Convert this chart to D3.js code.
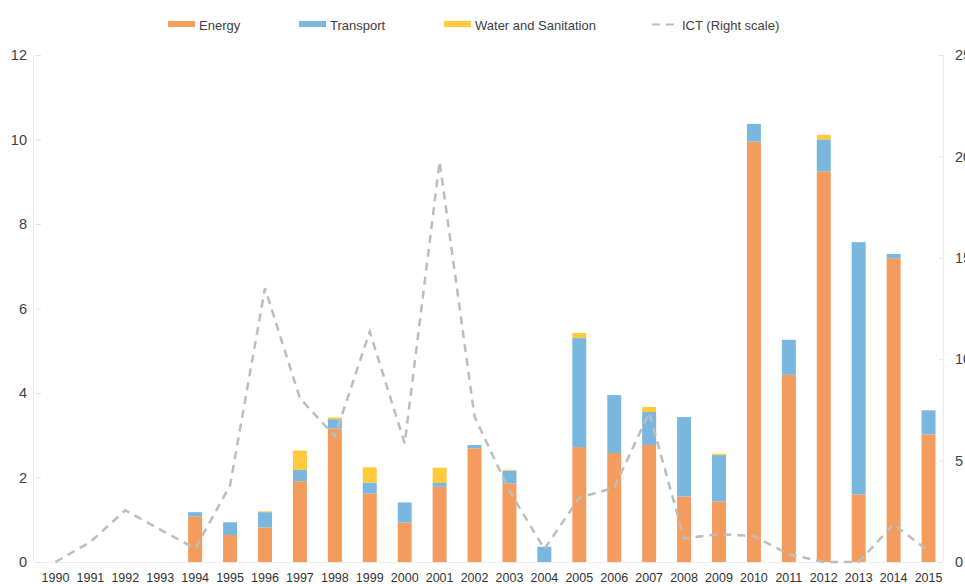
<!DOCTYPE html>
<html>
<head>
<meta charset="utf-8">
<script src="https://cdn.jsdelivr.net/npm/d3@7"></script>
<style>
  html, body { margin: 0; padding: 0; background: #fff; overflow: hidden; }
  svg { display: block; font-family: "Liberation Sans", Arial, sans-serif; }
</style>
</head>
<body>
<svg id="chart" width="965" height="584"></svg>
<script>
// Infrastructure commitments by sector, 1990-2015 (left scale) and ICT (right scale)
const years = d3.range(1990, 2016).map(String);
const energy    = [0, 0, 0, 0, 1.08, 0.64, 0.82, 1.91, 3.16, 1.62, 0.93, 1.78, 2.69, 1.86, 0, 2.72, 2.58, 2.77, 1.55, 1.43, 9.95, 4.43, 9.25, 1.60, 7.19, 3.02];
const transport = [0, 0, 0, 0, 0.10, 0.30, 0.36, 0.27, 0.22, 0.26, 0.48, 0.09, 0.08, 0.30, 0.36, 2.58, 1.37, 0.78, 1.88, 1.10, 0.42, 0.83, 0.75, 5.97, 0.10, 0.57];
const water     = [0, 0, 0, 0, 0, 0, 0.02, 0.46, 0.04, 0.36, 0, 0.36, 0, 0.02, 0, 0.12, 0, 0.12, 0, 0.03, 0, 0, 0.11, 0, 0, 0];
const ict       = [0, 0.99, 2.55, 1.6, 0.66, 3.78, 13.5, 8.07, 6.2, 11.36, 5.85, 19.74, 7.17, 3.5, 0.64, 3.17, 3.66, 7.36, 1.17, 1.37, 1.28, 0.38, 0, 0, 1.86, 0.54];
const leftTicks  = [0, 2, 4, 6, 8, 10, 12];
const rightTicks = [0, 5, 10, 15, 20, 25];

const seriesNames  = ["Energy", "Transport", "Water and Sanitation"];
const seriesColors = ["#F39C5D", "#79B7E1", "#FFC93C"];
const lineName  = "ICT (Right scale)";
const lineColor = "#BDBDBD";

const svg = d3.select("#chart");
const plotTop = 55, plotBottom = 562, plotLeft = 36, plotRight = 943;

const x = d3.scaleBand().domain(years).range([38, 946]).paddingInner(0.6).paddingOuter(0.3);
const yL = d3.scaleLinear().domain([0, 12]).range([plotBottom, plotTop]);
const yR = d3.scaleLinear().domain([0, 25]).range([plotBottom, plotTop]);

// axis frame lines
const frame = svg.append("g").attr("stroke", "#EDEDED").attr("stroke-width", 1);
frame.append("line").attr("x1", plotLeft - 2.5).attr("x2", plotLeft - 2.5).attr("y1", plotTop).attr("y2", plotBottom);
frame.append("line").attr("x1", plotRight + 0.5).attr("x2", plotRight + 0.5).attr("y1", plotTop).attr("y2", plotBottom);
frame.append("line").attr("x1", plotLeft - 2).attr("x2", plotRight).attr("y1", plotBottom + 0.5).attr("y2", plotBottom + 0.5);

// left axis
const axL = svg.append("g").attr("transform", `translate(${plotLeft},0)`)
  .call(d3.axisRight(yL).tickValues(leftTicks).tickSize(5).tickFormat(d3.format("d")));
axL.select(".domain").remove();
axL.selectAll(".tick line").attr("stroke", "#E3E3E3");
axL.selectAll(".tick text").attr("x", -9).attr("text-anchor", "end")
  .attr("fill", "#404040").attr("font-size", 14.5).attr("font-family", null);

// right axis
const axR = svg.append("g").attr("transform", `translate(${plotRight},0)`)
  .call(d3.axisLeft(yR).tickValues(rightTicks).tickSize(4).tickFormat(d3.format("d")));
axR.select(".domain").remove();
axR.selectAll(".tick line").attr("stroke", "#E3E3E3");
axR.selectAll(".tick text").attr("x", 12).attr("text-anchor", "start")
  .attr("fill", "#404040").attr("font-size", 14.5).attr("font-family", null);

// bottom axis labels
const axB = svg.append("g").attr("transform", `translate(0,${plotBottom})`)
  .call(d3.axisBottom(x).tickSize(0));
axB.select(".domain").remove();
axB.selectAll(".tick text").attr("y", 11).attr("fill", "#333")
  .attr("font-size", 12.5).attr("font-family", null);

// stacked bars
const rows = years.map((yr, i) => ({ year: yr, Energy: energy[i], Transport: transport[i], "Water and Sanitation": water[i] }));
const stack = d3.stack().keys(seriesNames)(rows);

svg.append("g").selectAll("g").data(stack).join("g")
  .attr("fill", (d, i) => seriesColors[i])
  .selectAll("rect").data(d => d).join("rect")
  .attr("x", d => x(d.data.year))
  .attr("width", x.bandwidth())
  .attr("y", d => yL(d[1]))
  .attr("height", d => Math.max(0, yL(d[0]) - yL(d[1])));

// ICT line
const line = d3.line()
  .x((d, i) => x(years[i]) + x.bandwidth() / 2)
  .y(d => yR(d));
svg.append("path").datum(ict)
  .attr("d", line)
  .attr("fill", "none")
  .attr("stroke", lineColor)
  .attr("stroke-width", 2.5)
  .attr("stroke-dasharray", "8,6");

// legend
const legend = svg.append("g").attr("font-size", 13).attr("fill", "#404040");
const legendX = [168, 299, 444];
seriesNames.forEach((name, i) => {
  legend.append("rect").attr("x", legendX[i]).attr("y", 21).attr("width", 27).attr("height", 6)
    .attr("fill", seriesColors[i]);
  legend.append("text").attr("x", legendX[i] + 31).attr("y", 29.5).text(name);
});
legend.append("line").attr("x1", 652).attr("x2", 678).attr("y1", 24.5).attr("y2", 24.5)
  .attr("stroke", lineColor).attr("stroke-width", 2).attr("stroke-dasharray", "8,6");
legend.append("text").attr("x", 682).attr("y", 29.5).text(lineName);
</script>
</body>
</html>
